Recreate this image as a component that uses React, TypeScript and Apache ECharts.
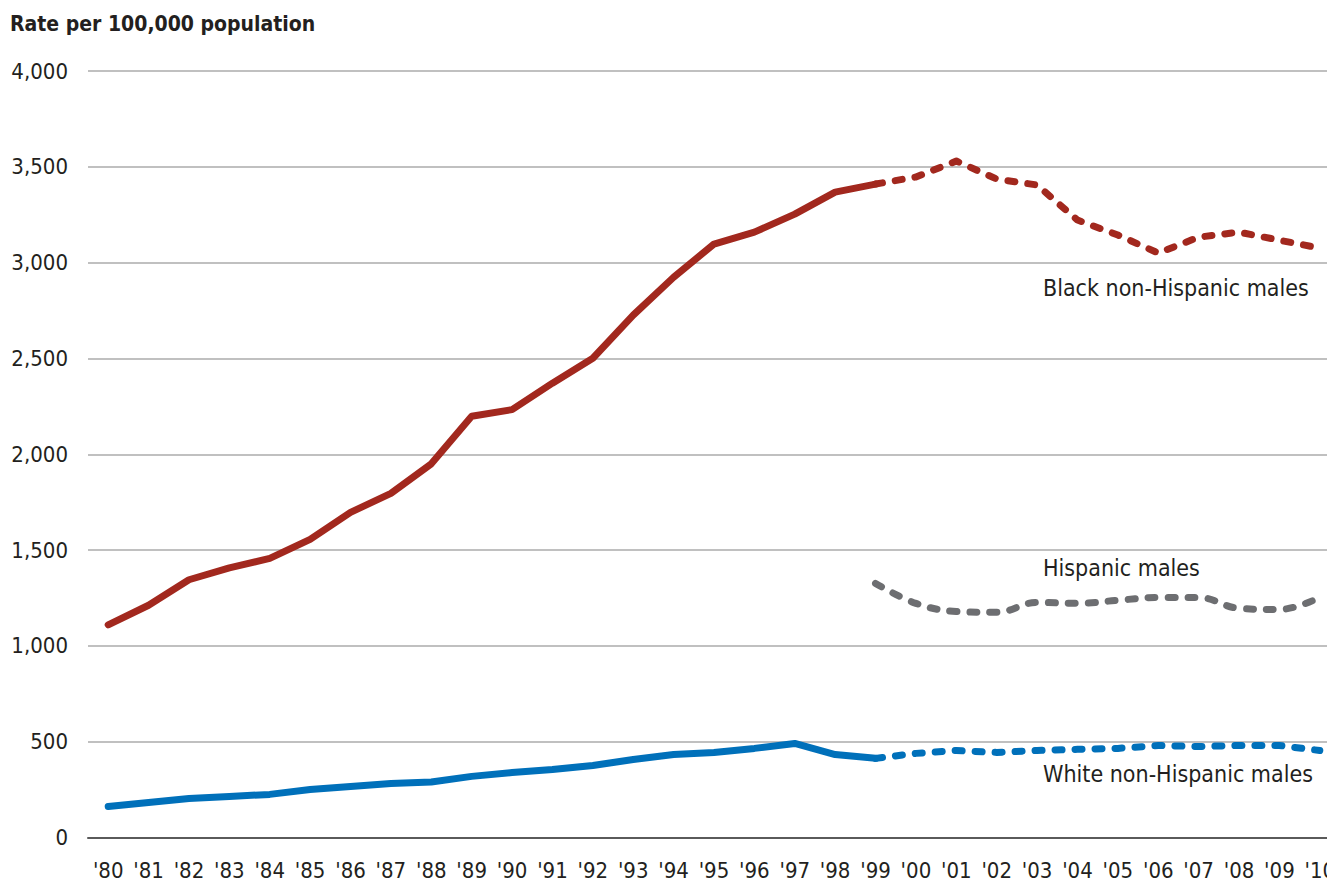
import React, { useEffect, useRef } from "react";
import * as echarts from "echarts";

const years = [
  "'80", "'81", "'82", "'83", "'84", "'85", "'86", "'87", "'88", "'89",
  "'90", "'91", "'92", "'93", "'94", "'95", "'96", "'97", "'98", "'99",
  "'00", "'01", "'02", "'03", "'04", "'05", "'06", "'07", "'08", "'09", "'10",
];

// Rates per 100,000 population, 1980-2010
const blackValues = [
  1110, 1212, 1345, 1407, 1457, 1556, 1697, 1796, 1950, 2198,
  2233, 2371, 2501, 2726, 2924, 3097, 3159, 3253, 3368, 3410,
  3447, 3530, 3436, 3405, 3222, 3144, 3050, 3133, 3159, 3117, 3076,
];
const hispanicValues = [
  null, null, null, null, null, null, null, null, null, null,
  null, null, null, null, null, null, null, null, null, 1326,
  1222, 1180, 1175, 1227, 1222, 1238, 1253, 1253, 1196, 1190, 1253,
];
const whiteValues = [
  162, 183, 204, 214, 225, 251, 266, 282, 290, 319,
  339, 355, 376, 407, 433, 444, 465, 491, 433, 413,
  439, 454, 444, 454, 460, 465, 480, 475, 480, 480, 454,
];
const yTicks = [0, 500, 1000, 1500, 2000, 2500, 3000, 3500, 4000];
const splitIndex = 19; // solid line until 1999, dashed afterwards

const FONT = "'Liberation Sans Narrow', 'DejaVu Sans Condensed', 'Roboto', sans-serif";
const RED = "#a2281e";
const BLUE = "#0070ba";
const GRAY = "#6d6e71";

function part(values: (number | null)[], solid: boolean) {
  return values.map((v, i) => (solid ? (i <= splitIndex ? v : null) : i >= splitIndex ? v : null));
}

function lineSeries(name: string, data: (number | null)[], color: string, dashed: boolean, smooth: number | boolean) {
  return {
    name,
    type: "line",
    data,
    showSymbol: false,
    symbol: "none",
    smooth,
    connectNulls: false,
    lineStyle: {
      color,
      width: 7,
      type: dashed ? [7, 13] : "solid",
      cap: "round",
      join: "round",
    },
    emphasis: { disabled: true },
  };
}

export default function App() {
  const ref = useRef<HTMLDivElement>(null);
  useEffect(() => {
    document.body.style.overflow = "hidden";
    const chart = echarts.init(ref.current!, null, { renderer: "svg" });
    chart.setOption({
      animation: false,
      backgroundColor: "#ffffff",
      textStyle: { fontFamily: FONT },
      grid: { left: 88, right: 5, top: 71, bottom: 49.5, containLabel: false },
      xAxis: {
        type: "category",
        data: years,
        boundaryGap: true,
        axisTick: { show: false },
        axisLine: { show: true, lineStyle: { color: "#5a5a5a", width: 2 } },
        axisLabel: { color: "#231f20", fontSize: 22, fontFamily: FONT, margin: 22, interval: 0 },
        splitLine: { show: false },
      },
      yAxis: {
        type: "value",
        min: 0,
        max: 4000,
        interval: 500,
        axisLine: { show: false },
        axisTick: { show: false },
        axisLabel: {
          color: "#231f20",
          fontSize: 22,
          fontFamily: FONT,
          margin: 20,
          formatter: (v: number) => (yTicks.includes(v) ? v.toLocaleString("en-US") : ""),
        },
        splitLine: { show: true, lineStyle: { color: "#ababab", width: 1.5 } },
      },
      series: [
        lineSeries("Black non-Hispanic males", part(blackValues, true), RED, false, false),
        lineSeries("Black non-Hispanic males (dashed)", part(blackValues, false), RED, true, false),
        lineSeries("Hispanic males", hispanicValues, GRAY, true, 0.4),
        lineSeries("White non-Hispanic males", part(whiteValues, true), BLUE, false, false),
        lineSeries("White non-Hispanic males (dashed)", part(whiteValues, false), BLUE, true, false),
      ],
      graphic: [
        {
          type: "text",
          left: 10,
          top: 13,
          style: { text: "Rate per 100,000 population", fill: "#231f20", font: `bold 21px ${FONT}` },
        },
        {
          type: "text",
          left: 1043,
          top: 276,
          style: { text: "Black non-Hispanic males", fill: "#231f20", font: `23px ${FONT}` },
        },
        {
          type: "text",
          left: 1043,
          top: 556,
          style: { text: "Hispanic males", fill: "#231f20", font: `23px ${FONT}` },
        },
        {
          type: "text",
          left: 1043,
          top: 762,
          style: { text: "White non-Hispanic males", fill: "#231f20", font: `23px ${FONT}` },
        },
      ],
    });
    return () => chart.dispose();
  }, []);
  return (
    <div
      ref={ref}
      style={{ position: "fixed", left: 0, top: 0, width: 1345, height: 887, background: "#fff" }}
    />
  );
}
